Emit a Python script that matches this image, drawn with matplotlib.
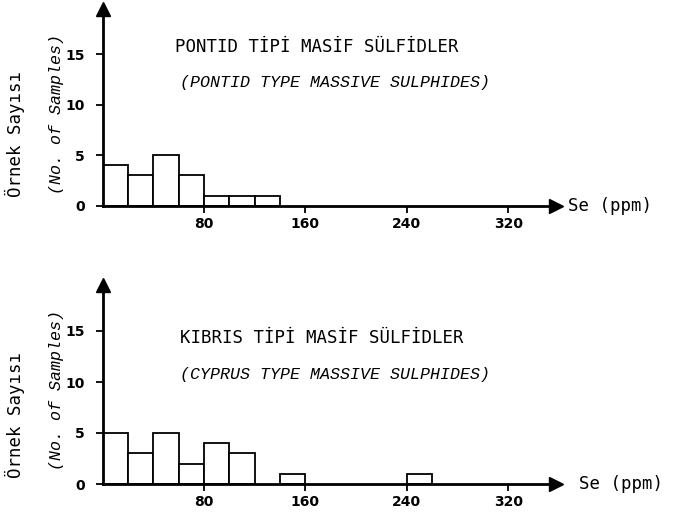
import matplotlib
matplotlib.use("Agg")
import matplotlib.pyplot as plt

# Se (ppm) histograms, 20 ppm classes
bin_width = 20
pontid_bins = [0, 20, 40, 60, 80, 100, 120]
pontid_counts = [4, 3, 5, 3, 1, 1, 1]
cyprus_bins = [0, 20, 40, 60, 80, 100, 140, 240]
cyprus_counts = [5, 3, 5, 2, 4, 3, 1, 1]

x_ticks = [80, 160, 240, 320]
y_ticks = [0, 5, 10, 15]

titles = [
    ("PONTID TİPİ MASİF SÜLFİDLER", "(PONTID TYPE MASSIVE SULPHIDES)"),
    ("KIBRIS TİPİ MASİF SÜLFİDLER", "(CYPRUS TYPE MASSIVE SULPHIDES)"),
]
ylabel_tr = "Örnek Sayısı"
ylabel_en = "(No. of Samples)"
xlabel = "Se (ppm)"

W, H = 674, 513
fig = plt.figure(figsize=(W / 100, H / 100), dpi=100)

mono = "DejaVu Sans Mono"
courier = "Liberation Mono"


def draw_panel(ax, bins, counts, title, subtitle, tx, ty, sx, sy, se_x):
    ax.bar(bins, counts, width=bin_width, align="edge", facecolor="white",
           edgecolor="black", linewidth=1.3, zorder=2)
    ax.set_xlim(0, 358)
    ax.set_ylim(0, 19.5)
    for s in ["top", "right"]:
        ax.spines[s].set_visible(False)
    for s in ["left", "bottom"]:
        ax.spines[s].set_linewidth(2)
        ax.spines[s].set_zorder(3)
    ax.set_xticks(x_ticks)
    ax.set_yticks(y_ticks)
    ax.tick_params(axis="x", direction="out", length=5, width=1.3, pad=3,
                   labelsize=10)
    ax.tick_params(axis="y", direction="out", length=5, width=1.3, pad=8,
                   labelsize=10)
    for lab in ax.get_xticklabels() + ax.get_yticklabels():
        lab.set_fontweight("bold")
    # arrow heads
    ax.plot(1, 0, ">", color="black", markersize=10,
            transform=ax.get_yaxis_transform(), clip_on=False, zorder=4)
    ax.plot(0, 1, "^", color="black", markersize=10,
            transform=ax.get_xaxis_transform(), clip_on=False, zorder=4)
    ax.text(se_x, 0, xlabel, transform=ax.get_yaxis_transform(),
            family=mono, fontsize=12.5, va="center", ha="left")
    ax.text(tx, ty, title, family=mono, fontsize=12.5, va="center", ha="left")
    ax.text(sx, sy, subtitle, family=courier, style="italic", fontsize=12,
            va="center", ha="left")


left = 102.7 / W
width = 358 * 1.267 / W

ax1 = fig.add_axes([left, (H - 205.7) / H, width, 19.5 * 10.11 / H])
draw_panel(ax1, pontid_bins, pontid_counts, titles[0][0], titles[0][1],
           57, 15.7, 61, 12.2, 1.025)

ax2 = fig.add_axes([left, (H - 484) / H, width, 19.5 * 10.2 / H])
draw_panel(ax2, cyprus_bins, cyprus_counts, titles[1][0], titles[1][1],
           61, 14.3, 61, 10.7, 1.05)

# y labels
for yc_tr, yc_en in [(134, 114), (415, 390)]:
    fig.text(15 / W, 1 - yc_tr / H, ylabel_tr, rotation=90, family=mono,
             fontsize=12.5, ha="center", va="center")
    fig.text(57 / W, 1 - yc_en / H, ylabel_en, rotation=90, family=courier,
             style="italic", fontsize=12, ha="center", va="center")

fig.savefig("out.png", dpi=100)
